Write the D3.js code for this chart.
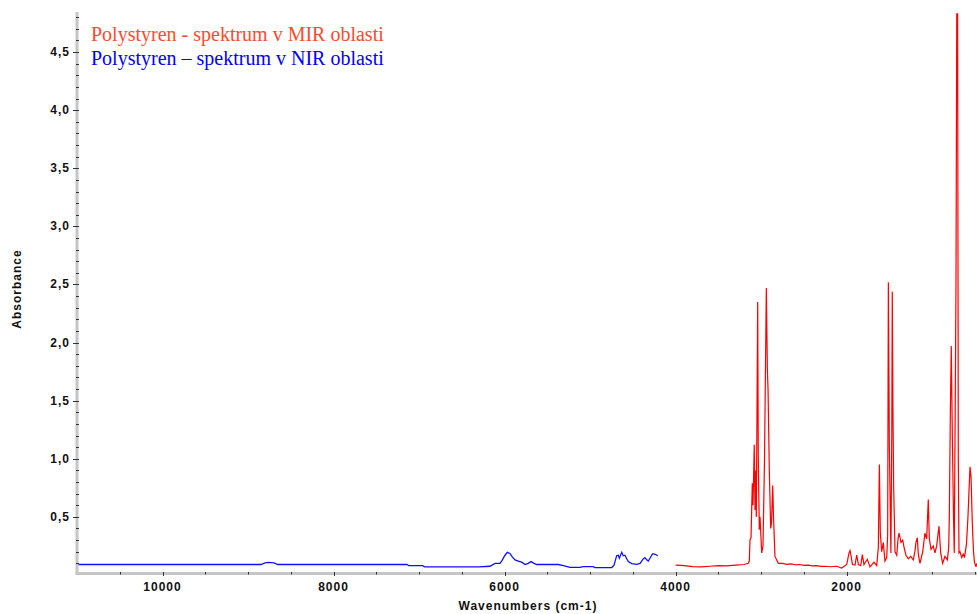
<!DOCTYPE html>
<html>
<head>
<meta charset="utf-8">
<script src="https://cdnjs.cloudflare.com/ajax/libs/d3/7.8.5/d3.min.js"></script>
<style>
	body { margin: 0; background: #fff; }
	svg { display: block; }
	.tick-label { font-family: "Liberation Sans", Arial, sans-serif; font-size: 12px; font-weight: bold; letter-spacing: 1px; fill: #111; }
	.legend { font-family: "Liberation Serif", "Times New Roman", serif; font-size: 20px; }
</style>
</head>
<body>
<div id="chart"></div>
<script>
/*
 * Datos - espectros del poliestireno [numero de onda, absorbancia]
 */
var nirSpektrum = [
	[11000, 0.09], [10000, 0.09], [9000, 0.09], [8850, 0.09], [8800, 0.104], [8760, 0.108],
	[8700, 0.104], [8650, 0.09], [8000, 0.09], [7140, 0.09], [7120, 0.08], [6960, 0.08],
	[6935, 0.07], [6300, 0.07], [6170, 0.075], [6112, 0.1], [6054, 0.1], [6034, 0.12],
	[5995, 0.17], [5968, 0.195], [5937, 0.185], [5910, 0.155], [5878, 0.13], [5840, 0.12],
	[5800, 0.11], [5761, 0.09], [5723, 0.1], [5691, 0.115], [5656, 0.1], [5624, 0.09],
	[5372, 0.09], [5313, 0.08], [5235, 0.066], [5118, 0.066], [5080, 0.072], [4963, 0.072],
	[4943, 0.064], [4747, 0.064], [4720, 0.085], [4689, 0.166], [4670, 0.17], [4658, 0.145],
	[4630, 0.195], [4612, 0.165], [4592, 0.17], [4572, 0.14], [4553, 0.115], [4513, 0.098],
	[4455, 0.092], [4416, 0.1], [4378, 0.138], [4358, 0.149], [4338, 0.13], [4319, 0.12],
	[4291, 0.155], [4268, 0.183], [4241, 0.178], [4209, 0.166]
];

var mirSpektrum = [
	[4000, 0.085], [3900, 0.08], [3800, 0.072], [3700, 0.07], [3600, 0.075], [3500, 0.08],
	[3400, 0.078], [3300, 0.085], [3200, 0.09], [3150, 0.1], [3138, 0.12], [3130, 0.3],
	[3118, 0.32], [3103, 0.79], [3095, 0.6], [3089, 0.8], [3080, 1.12], [3071, 0.56],
	[3066, 0.9], [3056, 0.5], [3040, 2.35], [3033, 1.0], [3021, 0.39], [3013, 0.5],
	[2993, 0.19], [2978, 0.25], [2960, 1.0], [2939, 2.47], [2927, 1.78], [2919, 1.6],
	[2904, 0.9], [2888, 0.4], [2878, 0.45], [2864, 0.77], [2855, 0.5], [2838, 0.16],
	[2799, 0.1], [2750, 0.1], [2700, 0.092], [2650, 0.095], [2600, 0.088], [2550, 0.09],
	[2500, 0.082], [2450, 0.085], [2400, 0.078], [2350, 0.08], [2300, 0.074], [2250, 0.075],
	[2194, 0.071], [2116, 0.075], [2058, 0.06], [1999, 0.09], [1972, 0.19], [1960, 0.21],
	[1947, 0.16], [1932, 0.09], [1902, 0.085], [1882, 0.17], [1862, 0.09], [1835, 0.08],
	[1816, 0.175], [1797, 0.09], [1758, 0.135], [1727, 0.07], [1680, 0.11], [1648, 0.08],
	[1629, 0.24], [1617, 0.95], [1606, 0.36], [1590, 0.2], [1571, 0.28], [1552, 0.12],
	[1531, 0.15], [1520, 0.35], [1512, 2.52], [1500, 1.1], [1482, 0.19], [1472, 1.2],
	[1466, 2.44], [1458, 1.4], [1450, 0.76], [1434, 0.2], [1414, 0.17], [1399, 0.31],
	[1387, 0.36], [1364, 0.28], [1344, 0.3], [1329, 0.24], [1306, 0.17], [1278, 0.14],
	[1251, 0.16], [1220, 0.13], [1200, 0.21], [1189, 0.28], [1173, 0.32], [1162, 0.18],
	[1142, 0.1], [1110, 0.2], [1084, 0.36], [1064, 0.31], [1045, 0.65], [1033, 0.31],
	[1013, 0.22], [987, 0.25], [967, 0.19], [947, 0.25], [920, 0.42], [900, 0.19],
	[877, 0.1], [850, 0.16], [822, 0.13], [806, 0.24], [799, 0.5], [787, 1.4],
	[776, 1.97], [764, 1.2], [750, 0.5], [741, 0.19], [733, 1.13], [721, 2.5],
	[712, 4.83], [702, 4.83], [694, 1.0], [686, 0.19], [674, 0.2], [654, 0.15],
	[636, 0.18], [622, 0.15], [598, 0.27], [581, 0.5], [569, 0.72], [557, 0.93],
	[545, 0.84], [530, 0.44], [516, 0.2], [505, 0.11], [487, 0.07], [480, 0.1]
];

// Ejes y textos
var xTicks = [10000, 8000, 6000, 4000, 2000];
var yTicks = [0.5, 1.0, 1.5, 2.0, 2.5, 3.0, 3.5, 4.0, 4.5];
var legendTexts = ["Polystyren - spektrum v MIR oblasti", "Polystyren \u2013 spektrum v NIR oblasti"];
var xTitle = "Wavenumbers (cm-1)";
var yTitle = "Absorbance";

/*
 * SVG y escalas
 */
var svgWidth = 977;
var svgHeight = 614;
var bordeIzq = 77, bordeDer = 976.6, bordeArriba = 12, bordeAbajo = 573;

var colorMIR = "#ff0000";
var colorNIR = "#1010ff";
var colorEje = "#c6c6c6";

var svg = d3.select("#chart")
  .append("svg")
  .attr("width", svgWidth)
  .attr("height", svgHeight);

var x = d3.scaleLinear().domain([11000, 480]).range([bordeIzq, bordeDer]);
var y = d3.scaleLinear().domain([0.017, 4.845]).range([bordeAbajo, bordeArriba]);

svg.append("clipPath").attr("id", "plot")
  .append("rect")
  .attr("x", bordeIzq).attr("y", 0)
  .attr("width", bordeDer - bordeIzq + 1).attr("height", bordeAbajo);

var linea = d3.line()
  .x(function(d) { return x(d[0]); })
  .y(function(d) { return y(d[1]); });

// Espectros
svg.append("path")
  .datum(nirSpektrum)
  .attr("clip-path", "url(#plot)")
  .attr("fill", "none")
  .attr("stroke", colorNIR)
  .attr("stroke-width", 1.3)
  .attr("d", linea);

svg.append("path")
  .datum(mirSpektrum)
  .attr("clip-path", "url(#plot)")
  .attr("fill", "none")
  .attr("stroke", colorMIR)
  .attr("stroke-width", 1.2)
  .attr("d", linea);

/*
 * Ejes grises
 */
svg.append("line")
  .attr("x1", bordeIzq).attr("x2", bordeIzq)
  .attr("y1", bordeArriba).attr("y2", bordeAbajo + 1.5)
  .attr("stroke", colorEje).attr("stroke-width", 3);

svg.append("line")
  .attr("x1", bordeIzq - 1.5).attr("x2", svgWidth)
  .attr("y1", bordeAbajo + 0.5).attr("y2", bordeAbajo + 0.5)
  .attr("stroke", colorEje).attr("stroke-width", 3);

// Ticks del eje x (menores cada 500)
var xMinor = d3.range(10500, 400, -500);
svg.selectAll(".xtick")
  .data(xMinor)
  .enter().append("line")
  .attr("class", "xtick")
  .attr("x1", function(d) { return Math.round(x(d)) + 0.5; })
  .attr("x2", function(d) { return Math.round(x(d)) + 0.5; })
  .attr("y1", bordeAbajo - 1)
  .attr("y2", function(d) { return xTicks.indexOf(d) >= 0 ? bordeAbajo + 3 : bordeAbajo + 1.5; })
  .attr("stroke", "#333").attr("stroke-width", 1);

svg.selectAll(".xlabel")
  .data(xTicks)
  .enter().append("text")
  .attr("class", "tick-label")
  .attr("x", function(d) { return x(d); })
  .attr("y", 591)
  .attr("text-anchor", "middle")
  .text(function(d) { return d; });

// Ticks del eje y (menores cada 0,1)
var yMinor = d3.range(1, 49).map(function(d) { return d / 10; });
svg.selectAll(".ytick")
  .data(yMinor)
  .enter().append("line")
  .attr("class", "ytick")
  .attr("x1", function(d) { return (Math.round(d * 10) % 5 == 0) ? bordeIzq - 4 : bordeIzq - 1; })
  .attr("x2", bordeIzq + 2)
  .attr("y1", function(d) { return Math.round(y(d)) + 0.5; })
  .attr("y2", function(d) { return Math.round(y(d)) + 0.5; })
  .attr("stroke", "#333").attr("stroke-width", 1);

svg.selectAll(".ylabel")
  .data(yTicks)
  .enter().append("text")
  .attr("class", "tick-label")
  .attr("x", 70)
  .attr("y", function(d) { return y(d) + 4; })
  .attr("text-anchor", "end")
  .text(function(d) { return d3.format(".1f")(d).replace(".", ","); });

// Titulos de ejes
svg.append("text")
  .attr("class", "tick-label")
  .attr("x", 528)
  .attr("y", 610)
  .attr("text-anchor", "middle")
  .text(xTitle);

svg.append("text")
  .attr("class", "tick-label")
  .attr("transform", "translate(21,289) rotate(-90)")
  .attr("text-anchor", "middle")
  .text(yTitle);

/*
 * Leyenda
 */
svg.append("text")
  .attr("class", "legend")
  .attr("x", 91).attr("y", 41)
  .attr("fill", "#ff4a2e")
  .text(legendTexts[0]);

svg.append("text")
  .attr("class", "legend")
  .attr("x", 91).attr("y", 65)
  .attr("fill", "#0000ff")
  .text(legendTexts[1]);
</script>
</body>
</html>
